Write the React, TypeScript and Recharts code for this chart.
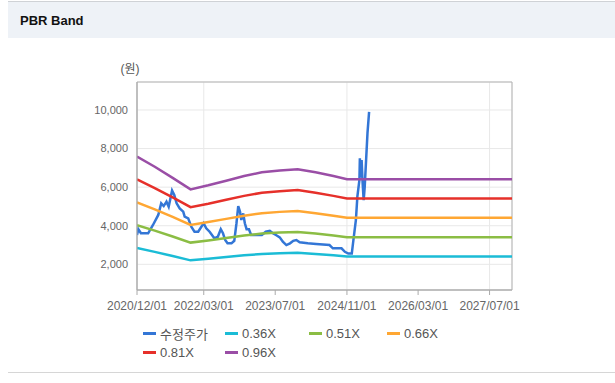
import React from 'react';
import { LineChart, Line, XAxis, YAxis, CartesianGrid, Legend, ReferenceArea } from 'recharts';

// 수정주가 (adjusted price)
const priceDates = [
  '2020-12-01', '2020-12-10', '2020-12-28', '2021-02-15', '2021-03-20', '2021-04-25',
  '2021-05-15', '2021-06-01', '2021-06-20', '2021-07-05', '2021-07-28', '2021-08-12',
  '2021-08-28', '2021-09-18', '2021-10-12', '2021-10-22', '2021-11-15', '2021-12-06',
  '2021-12-28', '2022-01-22', '2022-02-28', '2022-03-18', '2022-04-10', '2022-05-12',
  '2022-06-05', '2022-06-25', '2022-07-10', '2022-07-25', '2022-08-10', '2022-09-06',
  '2022-09-25', '2022-10-10', '2022-10-22', '2022-11-03', '2022-11-12', '2022-11-25',
  '2022-12-06', '2022-12-18', '2023-01-03', '2023-01-18', '2023-04-01', '2023-04-28',
  '2023-05-25', '2023-06-15', '2023-07-06', '2023-08-01', '2023-08-22', '2023-09-15',
  '2023-10-10', '2023-11-01', '2023-11-22', '2023-12-15', '2024-02-08', '2024-04-05',
  '2024-07-05', '2024-07-28', '2024-09-25', '2024-10-18', '2024-11-10', '2024-12-04',
  '2024-12-15', '2025-01-01', '2025-01-11', '2025-01-25', '2025-01-28', '2025-02-03',
  '2025-02-09', '2025-02-16', '2025-02-23', '2025-03-02', '2025-03-21', '2025-04-01',
];
const priceValues = [
  3520, 3820, 3610, 3610, 4040, 4560,
  5160, 5020, 5250, 4990, 5820, 5590,
  5160, 4900, 4730, 4470, 4380, 3950,
  3690, 3690, 4130, 3870, 3690, 3350,
  3430, 3820, 3610, 3260, 3090, 3090,
  3220, 4130, 5020, 4730, 4300, 4640,
  4130, 3820, 3820, 3520, 3520, 3690,
  3740, 3610, 3520, 3400, 3170, 3000,
  3090, 3220, 3260, 3140, 3090, 3050,
  3000, 2830, 2830, 2650, 2560, 2560,
  3260, 4300, 5510, 6370, 7500, 6500,
  7400, 6200, 5330, 6000, 8800, 9900,
];

// PBR band lines
const bandDates = [
  '2020-12-01', '2021-04-01', '2021-08-01', '2021-12-01', '2022-04-01', '2022-08-01', '2022-12-01',
  '2023-04-01', '2023-08-01', '2023-12-01', '2024-04-01', '2024-08-01', '2024-11-01', '2027-12-01',
];
const band036 = [2844, 2646, 2430, 2207, 2286, 2376, 2466, 2538, 2574, 2599, 2538, 2466, 2405, 2405];
const band051 = [4029, 3749, 3443, 3126, 3239, 3366, 3494, 3596, 3647, 3682, 3596, 3494, 3407, 3407];
const band066 = [5214, 4851, 4455, 4046, 4191, 4356, 4521, 4653, 4719, 4765, 4653, 4521, 4409, 4409];
const band081 = [6399, 5954, 5468, 4965, 5144, 5346, 5549, 5711, 5792, 5848, 5711, 5549, 5411, 5411];
const band096 = [7584, 7056, 6480, 5885, 6096, 6336, 6576, 6768, 6864, 6931, 6768, 6576, 6413, 6413];

const xTickDates = ['2020-12-01', '2022-03-01', '2023-07-01', '2024-11-01', '2026-03-01', '2027-07-01'];
const yTicks = [2000, 4000, 6000, 8000, 10000];
const legendOrder = ['수정주가', '0.36X', '0.51X', '0.66X', '0.81X', '0.96X'];

const toTs = (s: string) => Date.parse(s);
const pad = (n: number) => String(n).padStart(2, '0');
const fmtDate = (t: number) => {
  const d = new Date(t);
  return `${d.getUTCFullYear()}/${pad(d.getUTCMonth() + 1)}/${pad(d.getUTCDate())}`;
};

const priceData = priceDates.map((d, i) => ({ t: toTs(d), v: priceValues[i] }));
const bandSeries = [
  { name: '0.36X', values: band036, color: '#1bbcd6' },
  { name: '0.51X', values: band051, color: '#8bbd44' },
  { name: '0.66X', values: band066, color: '#ffa733' },
  { name: '0.81X', values: band081, color: '#e6302a' },
  { name: '0.96X', values: band096, color: '#9a4ea6' },
];

const xMin = toTs('2020-12-01');
const xMax = toTs('2027-12-01');
const yMin = 670;
const yMax = 11450;

const font = '"Liberation Sans", Arial, "Noto Sans CJK KR", sans-serif';

const renderLegend = (props: any) => {
  const items = [...(props.payload || [])].sort(
    (a: any, b: any) => legendOrder.indexOf(a.value) - legendOrder.indexOf(b.value)
  );
  return (
    <div style={{ display: 'grid', gridTemplateColumns: '82px 84px 78px 82px', fontFamily: font }}>
      {items.map((item: any) => (
        <div key={item.value} style={{ display: 'flex', alignItems: 'center', height: 19 }}>
          <span style={{ width: 13, height: 3, background: item.color, marginRight: 4 }} />
          <span style={{ fontSize: 13, color: '#555' }}>{item.value}</span>
        </div>
      ))}
    </div>
  );
};

export default function App() {
  return (
    <div style={{ position: 'absolute', left: 0, top: 0, width: 615, height: 383, background: '#fff', fontFamily: font }}>
      <div style={{ position: 'absolute', left: 8, top: 1, width: 607, height: 36, borderTop: '1px solid #cfd2d6', background: '#eef2f7' }} />
      <div style={{ position: 'absolute', left: 20, top: 12, fontSize: 13, lineHeight: '18px', fontWeight: 'bold', color: '#111' }}>
        PBR Band
      </div>
      <div style={{ position: 'absolute', left: 8, top: 372, width: 607, height: 1, background: '#d6d6d6' }} />
      <div style={{ position: 'absolute', left: 0, top: 0 }}>
        <LineChart width={615} height={383} margin={{ top: 82, right: 103, bottom: 63, left: 0 }}>
          <CartesianGrid stroke="#e8e8e8" />
          <XAxis
            type="number"
            dataKey="t"
            domain={[xMin, xMax]}
            ticks={xTickDates.map(toTs)}
            tickFormatter={fmtDate}
            allowDataOverflow
            stroke="#aaa"
            tick={{ fill: '#666', fontSize: 12 }}
            tickSize={5}
            tickMargin={6}
            height={30}
          />
          <YAxis
            type="number"
            domain={[yMin, yMax]}
            ticks={yTicks}
            allowDataOverflow
            width={137}
            stroke="#aaa"
            tickLine={false}
            tickSize={5}
            tickMargin={4}
            tick={{ fill: '#666', fontSize: 11 }}
            tickFormatter={(v) => v.toLocaleString('en-US')}
            label={{
              content: () => (
                <text x={130} y={69} textAnchor="middle" dominantBaseline="central" fontSize={12} fill="#555">
                  (원)
                </text>
              ),
            }}
          />
          <ReferenceArea x1={xMin} x2={xMax} y1={yMin} y2={yMax} fill="none" stroke="#b5b5b5" />
          <Line
            data={priceData}
            dataKey="v"
            name="수정주가"
            type="linear"
            stroke="#3376d6"
            strokeWidth={2.5}
            dot={false}
            isAnimationActive={false}
          />
          {bandSeries.map((b) => (
            <Line
              key={b.name}
              data={bandDates.map((d, i) => ({ t: toTs(d), v: b.values[i] }))}
              dataKey="v"
              name={b.name}
              type="linear"
              stroke={b.color}
              strokeWidth={2.5}
              dot={false}
              isAnimationActive={false}
            />
          ))}
          <Legend
            verticalAlign="middle"
            align="center"
            content={renderLegend}
            wrapperStyle={{ top: 324, left: 143, width: 340, height: 0 }}
          />
        </LineChart>
      </div>
    </div>
  );
}
